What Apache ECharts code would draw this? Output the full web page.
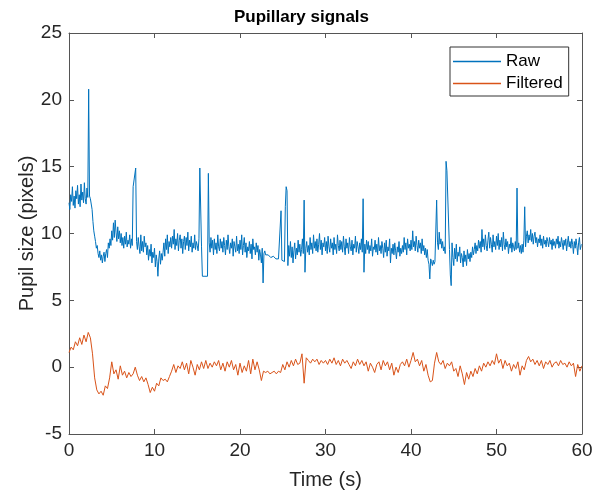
<!DOCTYPE html>
<html>
<head>
<meta charset="utf-8">
<script src="https://cdn.jsdelivr.net/npm/echarts@6/dist/echarts.min.js"></script>
<style>html,body{margin:0;padding:0;background:#fff}#c{width:603px;height:495px}</style>
</head>
<body>
<div id="c"></div>
<script>
// Sampling grid (seconds between samples)
const rawStep = 0.1;
const filtStep = 0.25;

// Raw pupil size (pixels), one value every 0.1 s from 0 to 60 s (one line per second)
const rawValues = [
12.3,11.8,12.9,12.4,13.5,12.1,12.8,11.9,13.2,12.6,
13.6,12.2,12.9,12.0,13.7,12.5,13.1,12.3,13.8,12.6,
12.2,13.4,12.7,20.8,12.8,12.6,12.7,11.8,10.9,10.2,
9.8,9.4,8.9,9.1,8.5,8.2,8.7,8.0,8.4,7.8,
8.3,8.6,7.9,8.5,8.8,8.2,9.3,8.9,9.6,9.1,
10.2,9.5,10.8,9.7,11.0,10.1,9.4,10.5,9.6,10.2,
9.3,10.0,9.1,9.7,8.9,9.8,9.2,10.1,9.0,9.5,
9.2,9.9,8.9,9.6,9.1,13.5,13.5,13.5,14.9,9.4,
8.8,9.7,9.0,8.5,9.9,8.7,9.4,8.6,9.8,9.0,
9.3,8.4,9.1,8.0,8.8,8.3,9.2,7.8,8.6,8.2,
8.9,7.5,8.4,7.9,6.8,8.1,8.7,7.7,8.5,8.0,
8.6,9.3,8.3,9.6,8.8,9.9,8.5,9.4,9.0,9.7,
8.9,9.8,9.2,10.3,8.8,9.6,9.1,10.0,8.7,9.5,
9.9,8.9,9.6,8.5,9.4,9.8,8.8,9.7,9.1,10.1,
8.7,9.5,9.0,9.8,8.6,9.3,8.9,9.9,8.8,9.4,
9.1,8.7,9.6,14.9,14.9,9.0,6.8,6.8,6.8,6.8,
6.8,6.8,6.8,14.5,9.3,8.6,9.7,8.9,9.5,8.4,
9.6,8.8,9.3,8.5,9.9,9.0,8.7,9.6,8.9,9.4,
8.6,9.7,9.1,8.4,9.5,8.8,9.9,9.0,8.5,9.3,
8.9,9.6,8.3,9.4,9.0,8.6,9.8,8.7,9.2,8.5,
9.5,8.8,9.9,8.4,9.1,9.7,8.6,9.3,8.2,9.0,
8.7,9.4,8.5,9.2,8.1,9.6,8.8,9.0,8.4,9.3,
8.6,9.1,8.0,8.8,8.4,7.8,8.9,6.3,8.5,8.7,
8.4,8.5,8.3,8.4,8.3,8.4,8.2,8.3,8.2,8.3,
8.2,8.3,8.1,8.2,8.1,8.1,8.0,8.1,11.7,8.0,
8.0,8.1,7.9,12.0,13.5,13.2,7.6,9.1,8.3,9.4,
8.2,9.0,7.8,8.7,9.3,8.1,8.9,8.4,9.5,8.6,
9.2,8.3,8.8,9.6,8.5,12.5,7.1,8.9,9.4,8.6,
9.1,8.4,9.7,8.8,9.3,8.5,9.9,8.9,9.4,8.7,
9.6,8.6,9.2,10.0,8.8,9.5,8.4,9.3,9.0,9.7,
8.7,9.4,8.5,9.8,9.0,8.6,9.6,8.9,9.3,8.4,
9.7,8.8,9.2,8.5,9.9,9.1,8.7,9.5,8.8,9.4,
8.6,9.8,9.0,8.4,9.6,8.9,9.3,8.5,9.7,9.0,
8.7,9.5,8.4,9.2,8.9,9.8,8.6,9.4,9.0,8.5,
9.3,8.8,9.6,8.6,12.6,7.1,9.2,8.5,9.5,8.8,
9.4,8.5,9.1,8.7,9.6,8.3,9.0,8.8,9.5,8.6,
9.2,8.4,9.7,8.7,9.1,8.5,9.4,8.9,8.2,9.3,
8.6,9.5,8.3,9.0,8.7,9.6,7.8,8.9,8.5,9.2,
8.4,9.3,8.7,8.1,9.0,8.6,9.4,8.3,8.9,8.5,
9.1,8.6,9.7,8.8,9.3,8.4,9.6,8.9,9.2,8.7,
9.5,8.8,10.2,9.0,9.4,8.7,9.8,9.1,8.6,9.5,
8.9,9.3,8.5,9.6,8.7,9.1,8.4,8.9,8.2,8.8,
8.0,7.7,6.6,8.1,7.9,7.6,8.0,7.7,7.9,7.8,
12.5,9.3,8.8,10.1,9.2,9.6,8.9,9.4,8.7,9.0,
8.5,15.4,14.7,14.7,14.7,8.8,6.9,6.1,9.3,8.2,
7.6,8.9,8.1,9.2,7.9,8.6,8.3,9.0,7.8,8.5,
8.2,7.5,8.7,7.9,8.4,7.6,8.8,8.1,8.5,7.9,
8.6,8.2,9.0,8.4,8.8,9.3,8.5,9.1,8.7,9.5,
8.9,9.4,8.6,10.3,9.0,9.6,8.8,9.9,9.1,8.7,
9.5,10.1,8.9,9.7,9.2,8.6,9.9,9.0,9.4,8.8,
9.8,9.1,10.0,8.8,9.5,9.0,9.7,8.7,10.1,9.2,
8.8,9.6,9.0,9.4,8.5,9.2,8.9,9.7,8.6,9.3,
9.0,8.7,9.4,8.8,13.4,8.9,9.3,8.6,9.1,8.5,
9.2,8.6,9.5,12.0,9.0,9.8,10.2,9.3,9.9,9.5,
10.3,9.4,10.0,9.2,9.8,10.1,9.3,9.7,9.0,9.6,
9.3,9.9,9.1,9.6,8.9,9.8,9.2,9.5,9.0,9.7,
9.4,9.0,9.7,9.2,9.5,8.8,9.6,9.1,9.4,8.9,
9.6,9.2,9.8,8.9,9.4,9.0,9.7,9.3,8.8,9.5,
9.1,9.6,8.7,9.3,9.8,9.0,9.4,8.9,9.6,9.2,
8.5,9.4,8.9,9.6,9.1,8.4,9.3,9.7,8.8,9.1,
9.2
];

// Filtered pupil signal, one value every 0.25 s from 0 to 60 s
const filteredValues = [
1.1,1.5,1.3,1.9,
1.6,2.2,1.7,2.4,
1.9,2.6,2.2,1.0,
-0.8,-1.7,-2.0,-1.8,
-2.1,-1.4,-1.6,-0.8,
0.4,-0.5,-0.2,-0.9,
0.1,-0.6,-0.3,-0.8,
-0.4,-0.7,-0.5,0.0,
-0.6,-1.0,-0.7,-1.1,
-0.8,-1.3,-1.9,-1.5,
-1.8,-1.2,-1.4,-0.8,
-1.0,-0.9,-1.1,-0.7,
-0.3,0.2,-0.4,0.1,
-0.1,0.4,-0.2,0.3,
-0.5,0.5,0.0,-0.6,
0.2,-0.2,0.4,-0.1,
0.5,-0.1,0.3,0.0,
0.4,0.1,0.5,-0.2,
0.3,-0.3,0.4,0.0,
0.5,-0.2,0.2,-0.6,
0.3,-0.4,0.1,-0.3,
0.5,-0.5,0.6,-0.2,
0.4,-0.2,-1.0,-0.3,
-0.4,-0.3,-0.5,-0.4,
-0.3,-0.5,-0.3,-0.4,
0.2,-0.2,0.4,0.0,
0.5,0.1,0.6,0.2,
0.3,1.0,-1.2,0.7,
0.5,0.3,0.6,0.4,
0.6,0.2,0.5,0.3,
0.5,0.2,0.6,0.3,
0.7,0.2,0.5,0.1,
0.6,0.3,0.5,0.2,
-0.1,0.4,0.1,0.6,
0.2,0.5,0.1,0.4,
-0.3,0.3,0.0,-0.4,
0.2,0.4,-0.2,0.5,
0.1,0.4,-0.2,0.3,
-0.6,0.0,-0.4,0.2,
0.4,0.1,0.6,0.0,
0.5,1.1,0.4,0.6,
0.1,0.5,-0.3,0.2,
-0.6,-1.1,-1.0,0.3,
1.1,0.4,0.2,0.5,
-0.1,0.3,0.1,0.4,
-0.3,-0.1,-0.7,0.1,
-0.5,-1.3,-0.4,-0.9,
-0.3,-0.7,-0.1,-0.5,
0.1,-0.3,0.3,0.0,
0.4,0.1,0.5,0.2,
1.0,0.3,0.6,-0.1,
0.5,0.1,0.3,-0.3,
0.2,-0.1,0.4,-0.6,
0.1,-0.2,0.5,0.8,
0.4,0.6,0.2,0.5,
0.1,0.5,-0.1,0.4,
0.2,0.5,0.0,0.3,
0.4,0.1,0.5,0.2,
0.3,0.0,0.4,0.1,
0.3,-0.7,0.2,-0.3,
0.1
];

const seriesNames = ['Raw', 'Filtered'];
const seriesColors = ['#0072BD', '#D95319'];
const titleText = 'Pupillary signals';
const xName = 'Time (s)';
const yName = 'Pupil size (pixels)';

const rawData = rawValues.map((v, i) => [+(i * rawStep).toFixed(2), v]);
const filtData = filteredValues.map((v, i) => [+(i * filtStep).toFixed(2), v]);

const FONT = 'Liberation Sans, Arial, sans-serif';
const AX = '#262626';
const axisLine = { show: true, onZero: false, lineStyle: { color: '#555', width: 1 } };
const tick = { inside: true, length: 5, lineStyle: { color: '#555' } };

const chart = echarts.init(document.getElementById('c'), null, { renderer: 'canvas' });
chart.setOption({
  animation: false,
  backgroundColor: '#fff',
  title: {
    text: titleText, left: 'center', top: 4,
    textStyle: { fontFamily: FONT, fontWeight: 'bold', fontSize: 17, color: '#000' }
  },
  legend: {
    orient: 'vertical',
    left: 450, top: 47,
    padding: [6, 6, 4, 3],
    itemGap: 5,
    itemWidth: 48, itemHeight: 1.5,
    backgroundColor: '#fff',
    borderColor: '#333', borderWidth: 1,
    textStyle: { fontFamily: FONT, fontSize: 17, color: '#000' },
    data: seriesNames.map((n, i) => ({
      name: n, icon: 'rect',
      itemStyle: { color: seriesColors[i], borderColor: seriesColors[i], borderWidth: 0 }
    }))
  },
  grid: { left: 69, right: 21, top: 33, bottom: 61, containLabel: false },
  xAxis: [{
    type: 'value', min: 0, max: 60, interval: 10,
    name: xName, nameLocation: 'middle', nameGap: 36, nameMoveOverlap: false,
    nameTextStyle: { fontFamily: FONT, fontSize: 20, color: AX },
    axisLine: axisLine, axisTick: tick,
    axisLabel: { fontFamily: FONT, fontSize: 19, color: AX, margin: 7 },
    splitLine: { show: false }
  }, {
    type: 'value', min: 0, max: 60, interval: 10, position: 'top',
    axisLine: axisLine, axisTick: tick,
    axisLabel: { show: false }, splitLine: { show: false }
  }],
  yAxis: [{
    type: 'value', min: -5, max: 25, interval: 5,
    name: yName, nameLocation: 'middle', nameGap: 32, nameMoveOverlap: false,
    nameTextStyle: { fontFamily: FONT, fontSize: 20, color: AX },
    axisLine: axisLine, axisTick: tick,
    axisLabel: { fontFamily: FONT, fontSize: 19, color: AX, margin: 7 },
    splitLine: { show: false }
  }, {
    type: 'value', min: -5, max: 25, interval: 5, position: 'right',
    axisLine: axisLine, axisTick: tick,
    axisLabel: { show: false }, splitLine: { show: false }
  }],
  series: [{
    name: seriesNames[0], type: 'line', data: rawData,
    xAxisIndex: 0, yAxisIndex: 0,
    showSymbol: false, symbol: 'none',
    lineStyle: { color: seriesColors[0], width: 1 },
    itemStyle: { color: seriesColors[0] }
  }, {
    name: seriesNames[1], type: 'line', data: filtData,
    xAxisIndex: 0, yAxisIndex: 0,
    showSymbol: false, symbol: 'none',
    lineStyle: { color: seriesColors[1], width: 1 },
    itemStyle: { color: seriesColors[1] }
  }]
});
</script>
</body>
</html>
